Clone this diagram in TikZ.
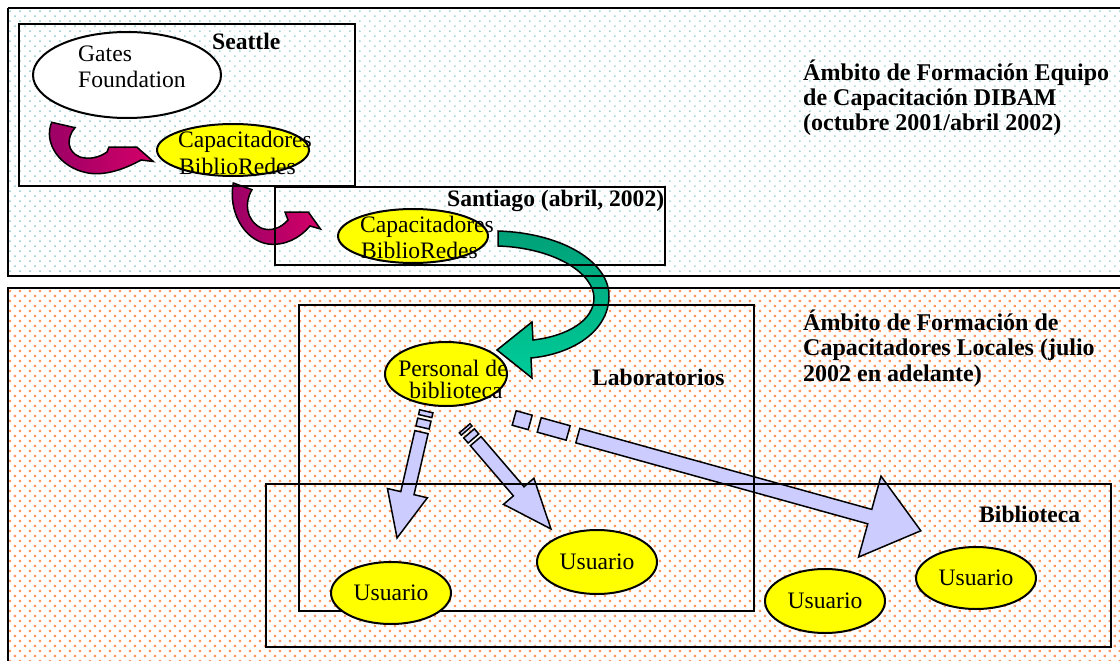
\documentclass[tikz,border=0pt]{standalone}
\usepackage{fontspec}
\setmainfont{Liberation Serif}
\usetikzlibrary{shapes.geometric,patterns.meta}
\definecolor{lav}{HTML}{CCCCFF}
\definecolor{yel}{HTML}{FFFF00}
\definecolor{magA}{HTML}{990066}
\definecolor{magB}{HTML}{D40068}
\definecolor{grnA}{HTML}{00A078}
\definecolor{grnB}{HTML}{00CC99}
\definecolor{dotO}{HTML}{FF9860}
\definecolor{dotB}{HTML}{A6D6DA}
\begin{document}
\begin{tikzpicture}[x=1pt,y=-1pt,
  ell/.style={ellipse, draw, line width=2pt, inner sep=0pt, font=\fontsize{23.6}{26}\selectfont},
  yell/.style={ell, fill=yel},
  txt/.style={inner sep=0pt, anchor=base west, font=\fontsize{23.6}{26}\selectfont},
  btxt/.style={inner sep=0pt, anchor=base west, font=\fontsize{23.6}{26}\selectfont\bfseries},
  ttl/.style={inner sep=0pt, anchor=base west, font=\fontsize{24}{25}\selectfont\bfseries},
  frame/.style={draw, line width=2pt},
  outerframe/.style={draw, line width=2.5pt},
  larrow/.style={draw, line width=1.5pt, fill=lav, line join=miter},
  marrow/.style={draw, line width=1.5pt, left color=magA, right color=magB, line join=miter},
  garrow/.style={draw, line width=1.5pt, top color=grnA, bottom color=grnB, line join=miter}]
\useasboundingbox (0,0) rectangle (1120,661);
\clip (0,0) rectangle (1120,661);
% backgrounds
\fill[white] (0,0) rectangle (1120,661);
\path[pattern={Dots[distance=7.07pt,angle=45,radius=1.1pt]}, pattern color=dotB] (8,8) rectangle (1125,276);
\path[pattern={Dots[distance=7.07pt,angle=45,radius=1.6pt]}, pattern color=dotO] (8,288) rectangle (1125,670);

% lavender striped arrows
\begin{scope}[shift={(426.3,411.3)}, rotate=-103]
  \draw[larrow] (0,-6.8) rectangle (4.9,6.8);
  \draw[larrow] (8.6,-6.8) rectangle (16.6,6.8);
  \draw[larrow] (21.4,-6.8) -- (84,-6.8) -- (84,-20.5) -- (130,0) -- (84,20.5) -- (84,6.8) -- (21.4,6.8) -- cycle;
\end{scope}
\begin{scope}[shift={(464.7,428.3)}, rotate=-49.4]
  \draw[larrow] (0,-7) rectangle (3,7);
  \draw[larrow] (6.7,-7) rectangle (13.4,7);
  \draw[larrow] (16.9,-7) -- (83,-7) -- (83,-20) -- (132.6,0) -- (83,20) -- (83,7) -- (16.9,7) -- cycle;
\end{scope}
\begin{scope}[shift={(514.2,418)}, rotate=-15.5]
  \draw[larrow] (0,-7.5) rectangle (16.6,7.5);
  \draw[larrow] (26,-7.5) rectangle (56,7.5);
  \draw[larrow] (66,-7.5) -- (369,-7.5) -- (369,-42) -- (422,0) -- (369,42) -- (369,7.5) -- (66,7.5) -- cycle;
\end{scope}

% magenta curved arrows
\draw[marrow] (51.7,122.3) -- (75,127.7)
  .. controls (66,138) and (67,152) .. (80,157)
  .. controls (90,160) and (100,157) .. (107,152)
  -- (109,147) -- (136.7,147) -- (153.3,161.5) -- (141,160)
  .. controls (125,169) and (105,176) .. (88,173)
  .. controls (60,168) and (43,143) .. cycle;
\draw[marrow] (233.3,183) -- (252,189.7)
  .. controls (244,203) and (246,220) .. (261,228)
  .. controls (271,232) and (281,228) .. (288,220)
  -- (285,212) -- (308.3,212) -- (320.5,229) -- (310,226)
  .. controls (300,238) and (285,246) .. (268,244)
  .. controls (243,240) and (228,210) .. cycle;

% green curved arrow
\draw[garrow] (498,231) .. controls (562,233) and (610,262) .. (609,297)
  .. controls (608,332) and (572,354) .. (531,358)
  -- (532,378) -- (497,350) -- (532,322) -- (533,340)
  .. controls (568,336) and (594,320) .. (594,298)
  .. controls (594,274) and (556,248) .. (498,246) -- cycle;

% frames
\draw[outerframe] (8,8) -- (1125,8) (8,8) -- (8,276) -- (1125,276);
\draw[outerframe] (1125,288) -- (8,288) -- (8,670);
\draw[frame] (19,24) rectangle (355,186);
\draw[frame] (275,187) rectangle (665,265);
\draw[frame] (299,305) rectangle (754,611);
\draw[frame] (266,484) rectangle (1111,647);

% ellipses
\node[ell, fill=white, minimum width=188, minimum height=86] (gates) at (127,75) {};
\node[yell, minimum width=152, minimum height=52] (capSea) at (233,150) {};
\node[yell, minimum width=150, minimum height=54] (capSan) at (413,236) {};
\node[yell, minimum width=122, minimum height=64] (personal) at (446,374) {};
\node[yell, minimum width=120, minimum height=62] (us1) at (391,593) {Usuario};
\node[yell, minimum width=120, minimum height=64] (us2) at (597,562) {Usuario};
\node[yell, minimum width=120, minimum height=64] (us3) at (825,601) {Usuario};
\node[yell, minimum width=120, minimum height=62] (us4) at (976,578) {Usuario};

% texts in ellipses
\node[txt] (gatesA) at (78,62) {Gates};
\node[txt] (gatesB) at (78,88) {Foundation};
\node[txt] (capSeaA) at (178,147) {Capacitadores};
\node[txt] (capSeaB) at (179,174) {BiblioRedes};
\node[txt] (capSanA) at (360,232) {Capacitadores};
\node[txt] (capSanB) at (361,258) {BiblioRedes};
\node[txt, anchor=base] (persA) at (453,376) {Personal de};
\node[txt, anchor=base] (persB) at (456,398) {biblioteca};

% labels
\node[btxt] (seattle) at (212,50) {Seattle};
\node[btxt] (santiago) at (447,206) {Santiago (abril, 2002)};
\node[btxt] (lab) at (592,385) {Laboratorios};
\node[btxt] (bib) at (979,522) {Biblioteca};
\node[ttl] (t1a) at (803,80.5) {Ámbito de Formación Equipo};
\node[ttl] (t1b) at (803,105.5) {de Capacitación DIBAM};
\node[ttl] (t1c) at (803,130) {(octubre 2001/abril 2002)};
\node[ttl] (t2a) at (803,330) {Ámbito de Formación de};
\node[ttl] (t2b) at (803,355.5) {Capacitadores Locales (julio};
\node[ttl] (t2c) at (803,381) {2002 en adelante)};
\end{tikzpicture}
\end{document}
